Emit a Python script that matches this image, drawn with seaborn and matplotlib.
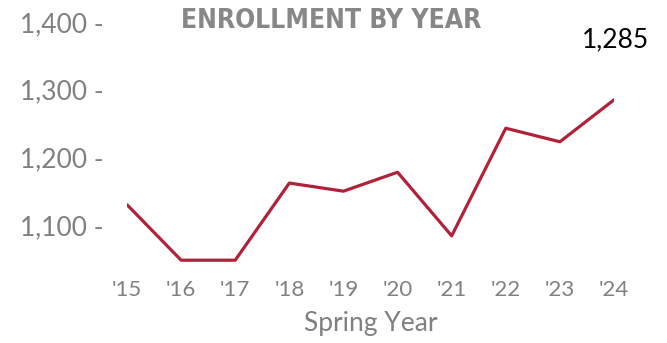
import matplotlib
matplotlib.use("Agg")
import matplotlib.pyplot as plt
import seaborn as sns
import pandas as pd

years = ["'15", "'16", "'17", "'18", "'19", "'20", "'21", "'22", "'23", "'24"]
enrollment = [1130, 1048, 1048, 1162, 1150, 1178, 1084, 1243, 1223, 1285]
y_ticks = [1100, 1200, 1300, 1400]

sns.set_theme(style="white")
plt.rcParams["font.family"] = ["Lato", "DejaVu Sans"]

df = pd.DataFrame({"pos": range(len(years)), "Enrollment": enrollment})

fig = plt.figure(figsize=(6.67, 3.43), dpi=100)
ax = fig.add_axes([127 / 667, 1 - 269 / 343, (614 - 127) / 667, (269 - 22) / 343])

sns.lineplot(data=df, x="pos", y="Enrollment", ax=ax, color="#B0213A", linewidth=2.3)

ax.set_xlim(0, len(years) - 1)
ax.set_ylim(1035, 1400)
for s in ax.spines.values():
    s.set_visible(False)

gray = "#808080"
ax.set_xticks(range(len(years)))
ax.set_xticklabels(years, fontsize=16, color=gray)
ax.set_yticks(y_ticks)
ax.set_yticklabels([f"{v:,} -" for v in y_ticks], fontsize=19, color=gray)
ax.tick_params(axis="both", length=0)
ax.tick_params(axis="x", pad=8)
ax.tick_params(axis="y", pad=17)

ax.set_xlabel("Spring Year", fontsize=19, color=gray, labelpad=8)
ax.set_ylabel("")

fig.text(331 / 667, 1 - 20.5 / 343, "ENROLLMENT BY YEAR", ha="center", va="center",
         fontsize=19, fontweight="bold", color="#878787",
         family="DejaVu Sans", fontstretch="condensed")

last = len(years) - 1
ax.annotate(f"{enrollment[-1]:,}", xy=(last, enrollment[-1]), xytext=(1, 43),
            textcoords="offset points", ha="center", va="center",
            fontsize=19, color="black")

fig.savefig("out.png", dpi=100)
